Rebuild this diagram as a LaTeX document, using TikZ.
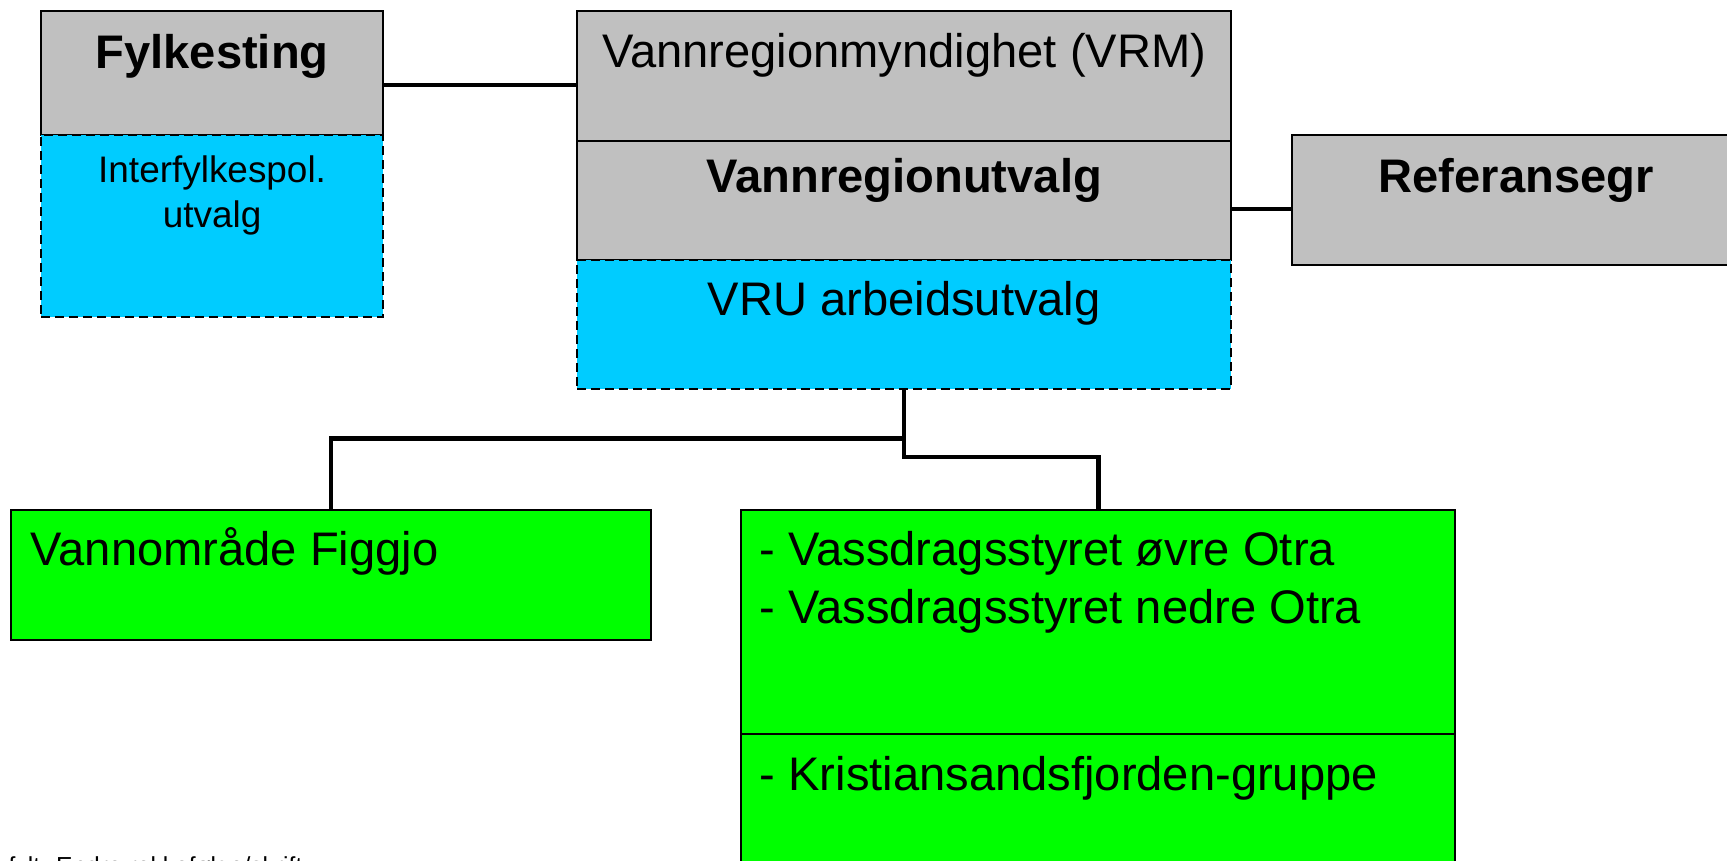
\documentclass[tikz,border=0pt]{standalone}
\usepackage{fontspec}
\setmainfont{Liberation Sans}
\usetikzlibrary{positioning}
\definecolor{boxgrey}{HTML}{C0C0C0}
\definecolor{boxblue}{HTML}{00CCFF}
\definecolor{boxgreen}{HTML}{00FF00}

\begin{document}
\begin{tikzpicture}[x=0.01cm,y=-0.01cm,
	box/.style={anchor=north west,inner sep=0pt,outer sep=0pt,line width=0.6pt},
	grey/.style={box,draw,fill=boxgrey},
	blue/.style={box,draw,fill=boxblue,dash pattern=on 0.09cm off 0.05cm},
	green/.style={box,draw,fill=boxgreen},
	txt/.style={inner sep=0pt,font=\fontsize{13.4}{16.5}\selectfont},
	smalltxt/.style={inner sep=0pt,font=\fontsize{10.5}{12.7}\selectfont},
	link/.style={line width=1.3pt}]
\useasboundingbox (0,0) rectangle (1727,861);
\clip (0,0) rectangle (1727,861);

\node [grey,minimum width=3.42cm,minimum height=1.24cm] (fylke) at (41,11) {};
\node [blue,minimum width=3.42cm,minimum height=1.82cm] (ifpu) at (fylke.south west) {};
\node [grey,minimum width=6.54cm,minimum height=1.30cm] (vrm) at (577,11) {};
\node [grey,minimum width=6.54cm,minimum height=1.19cm] (vru) at (vrm.south west) {};
\node [blue,minimum width=6.54cm,minimum height=1.29cm] (aru) at (vru.south west) {};
\node [grey,minimum width=4.53cm,minimum height=1.30cm] (ref) at (1292,135) {};
\node [green,minimum width=6.40cm,minimum height=1.30cm] (figgjo) at (11,510) {};
\node [green,minimum width=7.14cm,minimum height=2.24cm] (otra) at (741,510) {};
\node [green,minimum width=7.14cm,minimum height=1.66cm] (kfj) at (otra.south west) {};

\node [txt,anchor=base,font=\fontsize{13.4}{16.5}\selectfont\bfseries] (fylketxt) at ([yshift=-0.57cm]fylke.north) {Fylkesting};
\node [smalltxt,anchor=north,align=center] (ifputxt) at ([yshift=-0.2cm]ifpu.north) {Interfylkespol.\\utvalg};
\node [txt,anchor=base] (vrmtxt) at ([yshift=-0.56cm]vrm.north) {Vannregionmyndighet (VRM)};
\node [txt,anchor=base,font=\fontsize{13.4}{16.5}\selectfont\bfseries] (vrutxt) at ([yshift=-0.51cm]vru.north) {Vannregionutvalg};
\node [txt,anchor=base] (arutxt) at ([yshift=-0.55cm]aru.north) {VRU arbeidsutvalg};
\node [txt,anchor=base west,font=\fontsize{13.4}{16.5}\selectfont\bfseries] (reftxt) at ([xshift=0.86cm,yshift=-0.57cm]ref.north west) {Referansegr};
\node [txt,anchor=base west] (figgjotxt) at ([xshift=0.19cm,yshift=-0.55cm]figgjo.north west) {Vannområde Figgjo};
\node [txt,anchor=north west,align=left] (otratxt) at ([xshift=0.18cm,yshift=-0.21cm]otra.north west) {- Vassdragsstyret øvre Otra\\- Vassdragsstyret nedre Otra};
\node [txt,anchor=base west] (kfjtxt) at ([xshift=0.18cm,yshift=-0.56cm]kfj.north west) {- Kristiansandsfjorden-gruppe};
\node [inner sep=0pt,anchor=base west,font=\fontsize{7}{8}\selectfont] (note) at (8,874) {fylt. Endre rekkefølge/skrift};

\draw [link] ([yshift=-0.12cm]fylke.east) -- ([yshift=-0.12cm]fylke.east -| vrm.west);
\draw [link] ([yshift=-0.09cm]ref.west) -- ([yshift=-0.09cm]ref.west -| vru.east);
\draw [link] (aru.south) |- ([yshift=0.53cm]otra.north) -- (otra.north);
\draw [link] ([yshift=-0.49cm]aru.south) -| (figgjo.north);
\end{tikzpicture}
\end{document}
